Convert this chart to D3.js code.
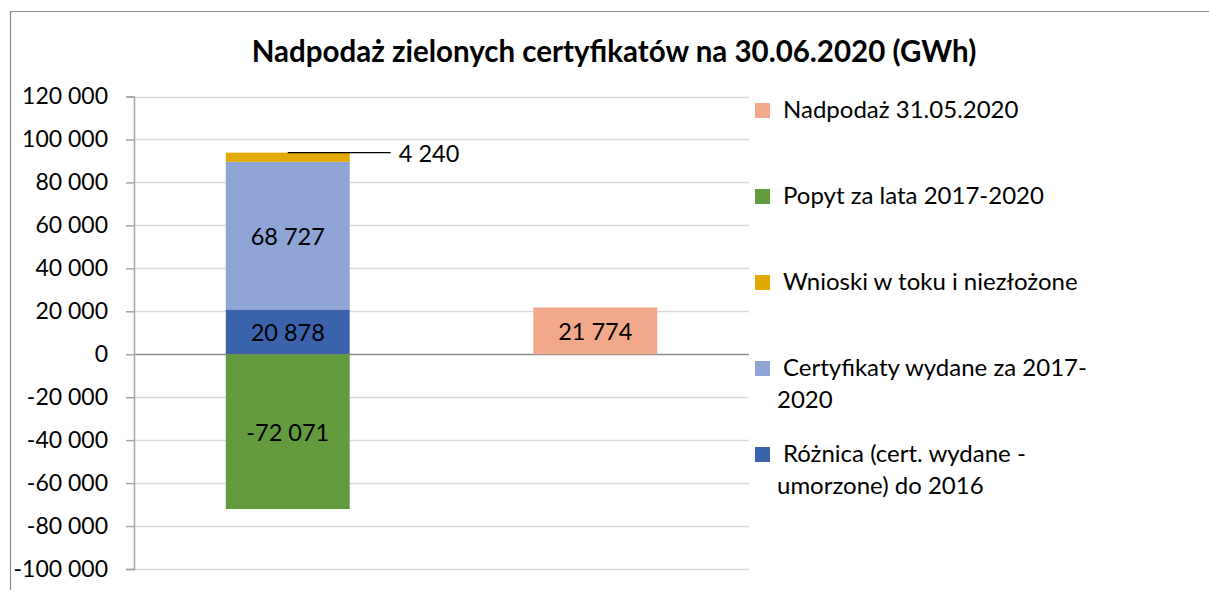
<!DOCTYPE html>
<html>
<head>
<meta charset="utf-8">
<script src="https://cdn.jsdelivr.net/npm/d3@7"></script>
<style>
  body { margin: 0; background: #fff; }
  svg text { font-family: Lato, "Open Sans", sans-serif; fill: #000; }
</style>
</head>
<body>
<svg id="chart" width="1209" height="590"></svg>
<script>
// data
const categories = ["a", "b"]
const nadpodaz = [0, 21774]
const popyt = [-72071, 0]
const wnioski = [4240, 0]
const certyfikaty = [68727, 0]
const roznica = [20878, 0]
const yTicks = [-100000, -80000, -60000, -40000, -20000, 0, 20000, 40000, 60000, 80000, 100000, 120000]
const legendKeys = ["nadpodaz", "popyt", "wnioski", "certyfikaty", "roznica"]
const legendLines = [["Nadpodaż 31.05.2020"], ["Popyt za lata 2017-2020"], ["Wnioski w toku i niezłożone"],
    ["Certyfikaty wydane za 2017-", "2020"], ["Różnica (cert. wydane -", "umorzone) do 2016"]]

const colors = {
    nadpodaz: "#F2A98B",
    popyt: "#629A3E",
    wnioski: "#E2AA00",
    certyfikaty: "#8FA5D5",
    roznica: "#3B63AC"
}

const svg = d3.select("#chart")
const fmt = v => d3.format(",")(v).replace(/,/g, " ").replace("\u2212", "-")

// outer frame
svg.append("path")
    .attr("d", "M10.5,590 V11.5 H1209")
    .attr("fill", "none")
    .attr("stroke", "#8C8C8C")
    .attr("stroke-width", 1.2)

// title
svg.append("text")
    .attr("x", 614).attr("y", 62)
    .attr("text-anchor", "middle")
    .style("font-weight", "bold")
    .style("font-size", "29.5px")
    .text("Nadpodaż zielonych certyfikatów na 30.06.2020 (GWh)")

const plotLeft = 134, plotRight = 749
const y = d3.scaleLinear().domain([-100000, 120000]).range([569, 96.5])
const x = d3.scaleBand().domain(categories).range([plotLeft, plotRight])
    .paddingInner(0.597).paddingOuter(0.2985)

// gridlines
svg.append("g").selectAll("line").data(yTicks).join("line")
    .attr("x1", plotLeft).attr("x2", plotRight)
    .attr("y1", d => Math.round(y(d)) + 0.5).attr("y2", d => Math.round(y(d)) + 0.5)
    .attr("stroke", d => d === 0 ? "#8C8C8C" : "#D9D9D9")
    .attr("stroke-width", 1.5)

// y axis
const yAxis = d3.axisLeft(y).tickValues(yTicks).tickSize(8).tickPadding(18).tickFormat(fmt)
const ag = svg.append("g").attr("transform", `translate(${plotLeft},0)`).call(yAxis)
ag.select(".domain").attr("stroke", "#A6A6A6").attr("stroke-width", 1.5)
ag.selectAll(".tick line").attr("stroke", "#A6A6A6").attr("stroke-width", 1.5)
ag.selectAll(".tick text")
    .style("font-family", "Lato, sans-serif")
    .style("font-size", "23px")
    .attr("fill", "#000")

// stacked segments
const segments = []
categories.forEach((c, i) => {
    let pos = 0
    const stackUp = [["roznica", roznica[i]], ["certyfikaty", certyfikaty[i]], ["wnioski", wnioski[i]], ["nadpodaz", nadpodaz[i]]]
    stackUp.forEach(([k, v]) => {
        if (v > 0) { segments.push({ cat: c, key: k, v0: pos, v1: pos + v, value: v }); pos += v }
    })
    if (popyt[i] < 0) segments.push({ cat: c, key: "popyt", v0: popyt[i], v1: 0, value: popyt[i] })
})

svg.append("g").selectAll("rect").data(segments).join("rect")
    .attr("x", d => x(d.cat))
    .attr("width", x.bandwidth())
    .attr("y", d => y(d.v1))
    .attr("height", d => y(d.v0) - y(d.v1))
    .attr("fill", d => colors[d.key])

// labels inside segments (wnioski is labelled with a leader line)
svg.append("g").selectAll("text").data(segments.filter(d => d.key !== "wnioski")).join("text")
    .attr("x", d => x(d.cat) + x.bandwidth() / 2)
    .attr("y", d => (y(d.v0) + y(d.v1)) / 2)
    .attr("text-anchor", "middle")
    .attr("dominant-baseline", "central")
    .style("font-size", "23.5px")
    .text(d => fmt(d.value))

const wn = segments.find(d => d.key === "wnioski")
const wnX = x(wn.cat) + x.bandwidth() / 2
svg.append("line")
    .attr("x1", wnX).attr("x2", wnX + 103)
    .attr("y1", y(wn.v1)).attr("y2", y(wn.v1))
    .attr("stroke", "#000").attr("stroke-width", 1.2)
svg.append("text")
    .attr("x", wnX + 111).attr("y", y(wn.v1))
    .attr("dominant-baseline", "central")
    .style("font-size", "23.5px")
    .text(fmt(wn.value))

// legend
const lg = svg.append("g").selectAll("g").data(legendKeys).join("g")
    .attr("transform", (d, i) => `translate(755,${103 + i * 86})`)
lg.append("rect").attr("width", 15).attr("height", 15).attr("fill", d => colors[d])
lg.each(function (d, i) {
    const t = d3.select(this).append("text").style("font-size", "24px")
    legendLines[i].forEach((line, j) => {
        t.append("tspan")
            .attr("x", j === 0 ? 28 : 22)
            .attr("y", 15 + j * 32)
            .text(line)
    })
})
</script>
</body>
</html>
